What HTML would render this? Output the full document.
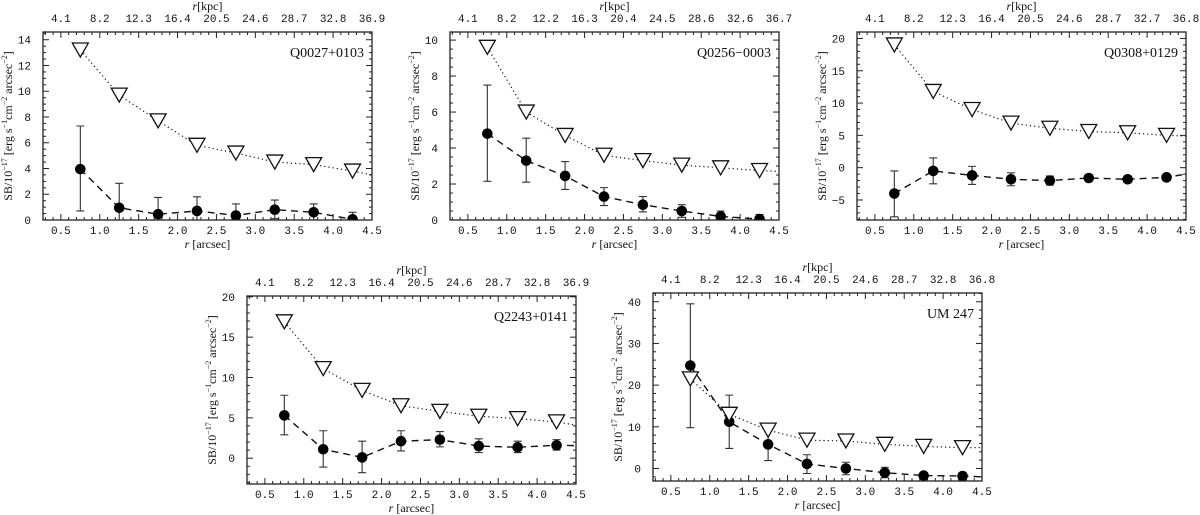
<!DOCTYPE html>
<html><head><meta charset="utf-8">
<style>
html,body{margin:0;padding:0;background:#fff;}
svg{display:block;}
.tk{font-family:"Liberation Mono",monospace;font-size:11px;fill:#111;}
.lb{font-family:"Liberation Serif",serif;font-size:12px;fill:#111;}
.nm{font-family:"Liberation Serif",serif;font-size:14px;fill:#111;}
</style></head>
<body>
<svg id="fig" width="1200" height="515" viewBox="0 0 1200 515" xmlns="http://www.w3.org/2000/svg"></svg>
<script>
const xVals=[0.75,1.25,1.75,2.25,2.75,3.25,3.75,4.25];
const names=["Q0027+0103","Q0256\u22120003","Q0308+0129","Q2243+0141","UM 247"];
const upper1=[13.2,9.7,7.7,5.8,5.2,4.5,4.3,3.8];
const upper2=[9.6,6.0,4.7,3.6,3.3,3.05,2.9,2.75];
const upper3=[19,11.8,9,6.9,6.1,5.6,5.4,5.0];
const upper4=[16.9,11.1,8.4,6.5,5.8,5.2,4.9,4.5];
const upper5=[21.5,13,9.2,6.8,6.6,5.8,5.3,5.0];
const upperTail=[3.5,2.7,4.9,4.1,5.0];
const sb1=[3.95,0.95,0.45,0.7,0.35,0.8,0.6,0.05];
const sb2=[4.8,3.3,2.45,1.3,0.85,0.5,0.2,0.05];
const sb3=[-4,-0.5,-1.2,-1.8,-2,-1.6,-1.8,-1.5];
const sb4=[5.3,1.1,0.1,2.1,2.3,1.5,1.35,1.6];
const sb5=[24.7,11.2,5.8,1.1,0,-1.0,-1.7,-1.8];
const sbTail=[-0.3,-0.1,-1.0,1.55,-2.0];
const lo1=[0.7,0,0,0,0,0.1,0,0];
const hi1=[7.3,2.85,1.75,1.8,1.25,1.55,1.25,0.6];
const lo2=[2.15,2.1,1.7,0.8,0.45,0.15,0,0];
const hi2=[7.5,4.55,3.25,1.8,1.3,0.85,0.5,0.3];
const lo3=[-7.6,-2.5,-2.6,-2.8,-2.7,-2.1,-2.3,-2.0];
const hi3=[-0.5,1.5,0.2,-0.8,-1.3,-1.1,-1.3,-1.0];
const lo4=[2.9,-1.1,-1.8,0.9,1.4,0.7,0.7,1.0];
const hi4=[7.8,3.4,2.1,3.4,3.3,2.4,2.1,2.3];
const lo5=[9.8,4.8,1.9,-1.2,-1.5,-2.2,-2.5,-2.5];
const hi5=[39.5,17.6,9.6,3.3,1.5,0.3,-1.0,-1.2];
const xTicks=[0.5,1.0,1.5,2.0,2.5,3.0,3.5,4.0,4.5];
const kpc1=["4.1","8.2","12.3","16.4","20.5","24.6","28.7","32.8","36.9"];
const kpc2=["4.1","8.2","12.2","16.3","20.4","24.5","28.6","32.6","36.7"];
const kpc3=["4.1","8.2","12.3","16.4","20.5","24.6","28.7","32.7","36.8"];
const kpc4=["4.1","8.2","12.3","16.4","20.5","24.6","28.7","32.8","36.9"];
const kpc5=["4.1","8.2","12.3","16.4","20.5","24.6","28.7","32.8","36.8"];
const yTicks1=[0,2,4,6,8,10,12,14];
const yTicks2=[0,2,4,6,8,10];
const yTicks3=[-5,0,5,10,15,20];
const yTicks4=[0,5,10,15,20];
const yTicks5=[0,10,20,30,40];

const panels=[
 {L:43,T:32,up:upper1,sb:sb1,lo:lo1,hi:hi1,kpc:kpc1,yt:yTicks1,ymin:0,ymax:14.6,minor:0.5},
 {L:450,T:32,up:upper2,sb:sb2,lo:lo2,hi:hi2,kpc:kpc2,yt:yTicks2,ymin:0,ymax:10.45,minor:0.5},
 {L:857,T:32,up:upper3,sb:sb3,lo:lo3,hi:hi3,kpc:kpc3,yt:yTicks3,ymin:-8.1,ymax:21,minor:1},
 {L:247,T:296,up:upper4,sb:sb4,lo:lo4,hi:hi4,kpc:kpc4,yt:yTicks4,ymin:-3.2,ymax:20.1,minor:1},
 {L:653,T:293,up:upper5,sb:sb5,lo:lo5,hi:hi5,kpc:kpc5,yt:yTicks5,ymin:-3.0,ymax:42.1,minor:2}
];
const W=329,H=188,XMIN=0.27,XMAX=4.5;
const NS="http://www.w3.org/2000/svg";
const fig=document.getElementById('fig');
function mk(tag,at,parent){const e=document.createElementNS(NS,tag);for(const k in at)e.setAttribute(k,at[k]);parent.appendChild(e);return e;}

panels.forEach((p,i)=>{
 const B=p.T+H;
 const g=mk('g',{},fig);
 
 
 const X=v=>p.L+(v-XMIN)/(XMAX-XMIN)*W;
 const Y=v=>B-(v-p.ymin)/(p.ymax-p.ymin)*H;
 const cp='clip'+i;
 const cpe=mk('clipPath',{id:cp},g);
 mk('rect',{x:p.L,y:p.T,width:W,height:H},cpe);
 for(let v=0.3;v<=4.501;v+=0.1){
  const x=X(v),maj=Math.abs(v*2-Math.round(v*2))<1e-6;
  const len=maj?6:3;
  mk('line',{x1:x,y1:B,x2:x,y2:B-len,stroke:'#222','stroke-width':1},g);
  mk('line',{x1:x,y1:p.T,x2:x,y2:p.T+len,stroke:'#222','stroke-width':1},g);
 }
 const ystart=Math.ceil(p.ymin/p.minor)*p.minor;
 for(let v=ystart;v<=p.ymax+1e-6;v+=p.minor){
  const y=Y(v),maj=p.yt.some(t=>Math.abs(t-v)<1e-6);
  const len=maj?6:3;
  mk('line',{x1:p.L,y1:y,x2:p.L+len,y2:y,stroke:'#222','stroke-width':1},g);
  mk('line',{x1:p.L+W,y1:y,x2:p.L+W-len,y2:y,stroke:'#222','stroke-width':1},g);
 }
 xTicks.forEach((v,k)=>{
  const t=mk('text',{x:X(v),y:B+14,'text-anchor':'middle',class:'tk'},g);
  t.textContent=v.toFixed(1);
  
  
  const t2=mk('text',{x:X(v),y:p.T-10,'text-anchor':'middle',class:'tk'},g);
  t2.textContent=p.kpc[k];
  
  
 });
 p.yt.forEach(v=>{
  const t=mk('text',{x:p.L-12,y:Y(v)+4,'text-anchor':'end',class:'tk'},g);
  t.textContent=v<0?'\u2212'+Math.abs(v):String(v);
  
  
 });
 const xt=mk('text',{x:p.L+W/2,y:B+28,'text-anchor':'middle',class:'lb'},g);
 xt.innerHTML='<tspan font-style="italic">r</tspan>  [arcsec]';
 
 
 const tt=mk('text',{x:p.L+W/2,y:p.T-22,'text-anchor':'middle',class:'lb'},g);
 tt.innerHTML='<tspan font-style="italic">r</tspan>[kpc]';
 
 
 const yl=mk('text',{x:0,y:0,'text-anchor':'middle',class:'lb',transform:`translate(${p.L-31},${p.T+H/2}) rotate(-90)`},g);
 yl.innerHTML='SB/10<tspan dy="-5" font-size="8">\u221217</tspan><tspan dy="5">  [erg s</tspan><tspan dy="-5" font-size="8">\u22121</tspan><tspan dy="5">cm</tspan><tspan dy="-5" font-size="8">\u22122</tspan><tspan dy="5"> arcsec</tspan><tspan dy="-5" font-size="8">\u22122</tspan><tspan dy="5">]</tspan>';
 
 
 const nm=mk('text',{x:p.L+W-8,y:p.T+25,'text-anchor':'end',class:'nm'},g);
 nm.textContent=names[i];
 
 
 const cg=mk('g',{'clip-path':`url(#${cp})`},g);
 let d='M'+xVals.map((v,k)=>X(v)+','+Y(p.up[k])).join('L')+'L'+X(4.5)+','+Y(upperTail[i]);
 const ul=mk('path',{d:d,fill:'none',stroke:'#111','stroke-width':1.2,'stroke-dasharray':'1.2,3'},cg);
 
 
 d='M'+xVals.map((v,k)=>X(v)+','+Y(p.sb[k])).join('L')+'L'+X(4.5)+','+Y(sbTail[i]);
 const sl=mk('path',{d:d,fill:'none',stroke:'#111','stroke-width':1.4,'stroke-dasharray':'7,5'},cg);
 
 
 xVals.forEach((v,k)=>{
  const x=X(v);
  const e=mk('path',{d:`M${x},${Y(p.lo[k])}V${Y(p.hi[k])}M${x-4},${Y(p.lo[k])}h8M${x-4},${Y(p.hi[k])}h8`,stroke:'#333','stroke-width':1.1,fill:'none'},cg);
  
  
  const c=mk('circle',{cx:x,cy:Y(p.sb[k]),r:5.3,fill:'#000'},cg);
  
  
  const y=Y(p.up[k]);
  const tr=mk('path',{d:`M${x-8},${y-7}L${x+8},${y-7}L${x},${y+7}Z`,fill:'#fff',stroke:'#111','stroke-width':1.3},cg);
  
  
 });
 const fr=mk('rect',{x:p.L,y:p.T,width:W,height:H,fill:'none',stroke:'#222','stroke-width':1.3},g);
 
 
});
</script>
</body></html>
